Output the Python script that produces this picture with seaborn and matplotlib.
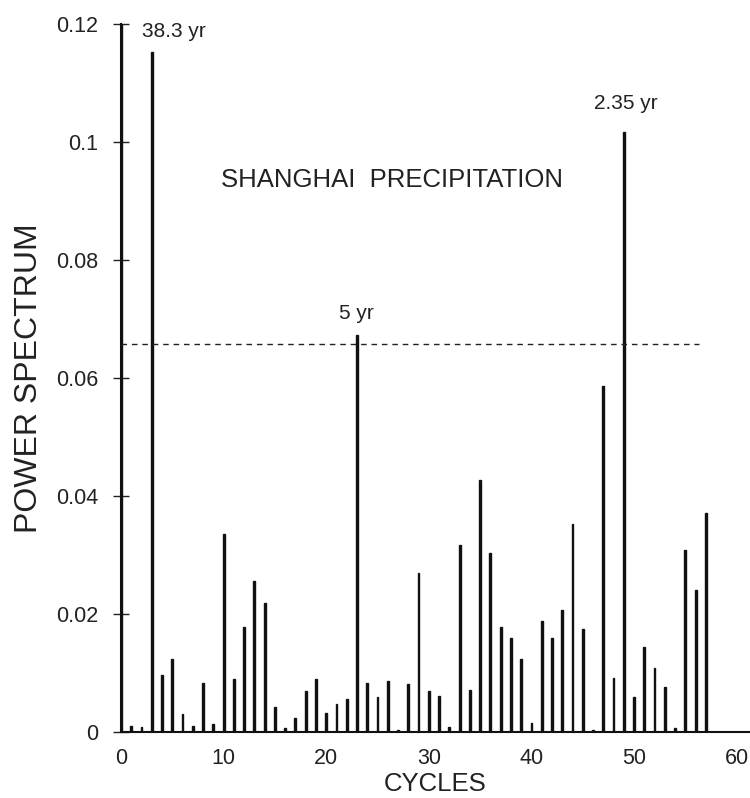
import numpy as np
import pandas as pd
import matplotlib
matplotlib.use("Agg")
import matplotlib.pyplot as plt
import seaborn as sns

# power spectrum values, one per cycle (0..57)
cycles = list(range(58))
power = [
    0.1200, 0.0010, 0.0008, 0.1153, 0.0096, 0.0123, 0.0030, 0.0011, 0.0083, 0.0013,
    0.0335, 0.0089, 0.0178, 0.0256, 0.0219, 0.0043, 0.0007, 0.0024, 0.0069, 0.0090,
    0.0032, 0.0048, 0.0056, 0.0673, 0.0083, 0.0060, 0.0086, 0.0004, 0.0081, 0.0269,
    0.0069, 0.0061, 0.0008, 0.0317, 0.0071, 0.0427, 0.0304, 0.0178, 0.0160, 0.0123,
    0.0015, 0.0188, 0.0160, 0.0207, 0.0352, 0.0175, 0.0004, 0.0586, 0.0091, 0.1017,
    0.0060, 0.0144, 0.0108, 0.0076, 0.0007, 0.0309, 0.0240, 0.0372,
]
significance = 0.0657  # dashed confidence level
sig_end = 56.3

peak_labels = ["38.3 yr", "5 yr", "2.35 yr"]
peak_x = [5.2, 22.9, 49.2]
peak_y = [0.1187, 0.0710, 0.1066]

ytick_vals = [0, 0.02, 0.04, 0.06, 0.08, 0.1, 0.12]
ytick_text = ["0", "0.02", "0.04", "0.06", "0.08", "0.1", "0.12"]
xtick_vals = [0, 10, 20, 30, 40, 50, 60]

df = pd.DataFrame({"cycle": cycles, "power": power})

sns.set_theme(style="white")
plt.rcParams["font.family"] = ["Liberation Sans", "DejaVu Sans"]

fig = plt.figure(figsize=(7.5, 7.98), dpi=100)
ax = fig.add_axes([0.1613, 0.0827, 0.8387, 0.8872])

# narrow bars with an edge so every bar renders about 3 px wide
sns.barplot(data=df, x="cycle", y="power", native_scale=True, width=0.18,
            color="#111111", saturation=1, errorbar=None, ax=ax,
            edgecolor="#111111", linewidth=1.0)

# significance level
ax.hlines(significance, 0, sig_end, colors="#222222", linestyles=(0, (4, 3.5)), lw=1.0)

for lab, px, py in zip(peak_labels, peak_x, peak_y):
    ax.text(px, py, lab, ha="center", va="center", fontsize=15, color="#222222")

ax.text(26.4, 0.0936, "SHANGHAI  PRECIPITATION", ha="center", va="center",
        fontsize=18.5, color="#222222")

ax.set_xlim(0, 61.3)
ax.set_ylim(0, 0.12)
ax.set_xticks(xtick_vals)
ax.set_xticklabels([str(v) for v in xtick_vals])
ax.set_yticks(ytick_vals)
ax.set_yticklabels(ytick_text)

ax.tick_params(axis="y", direction="inout", length=11.5, width=1.0, pad=10.5,
               labelsize=15.5, colors="#222222", left=True)
ax.tick_params(axis="x", length=0, pad=11.5, labelsize=15.5, colors="#222222")

ax.set_xlabel("CYCLES", fontsize=18.5, color="#222222", labelpad=2)
ax.set_ylabel("POWER SPECTRUM", fontsize=23, color="#222222", labelpad=9)

sns.despine(ax=ax, top=True, right=True)
for side in ["left", "bottom"]:
    ax.spines[side].set_color("#111111")
    ax.spines[side].set_linewidth(1.5)

fig.savefig("out.png", dpi=100)
